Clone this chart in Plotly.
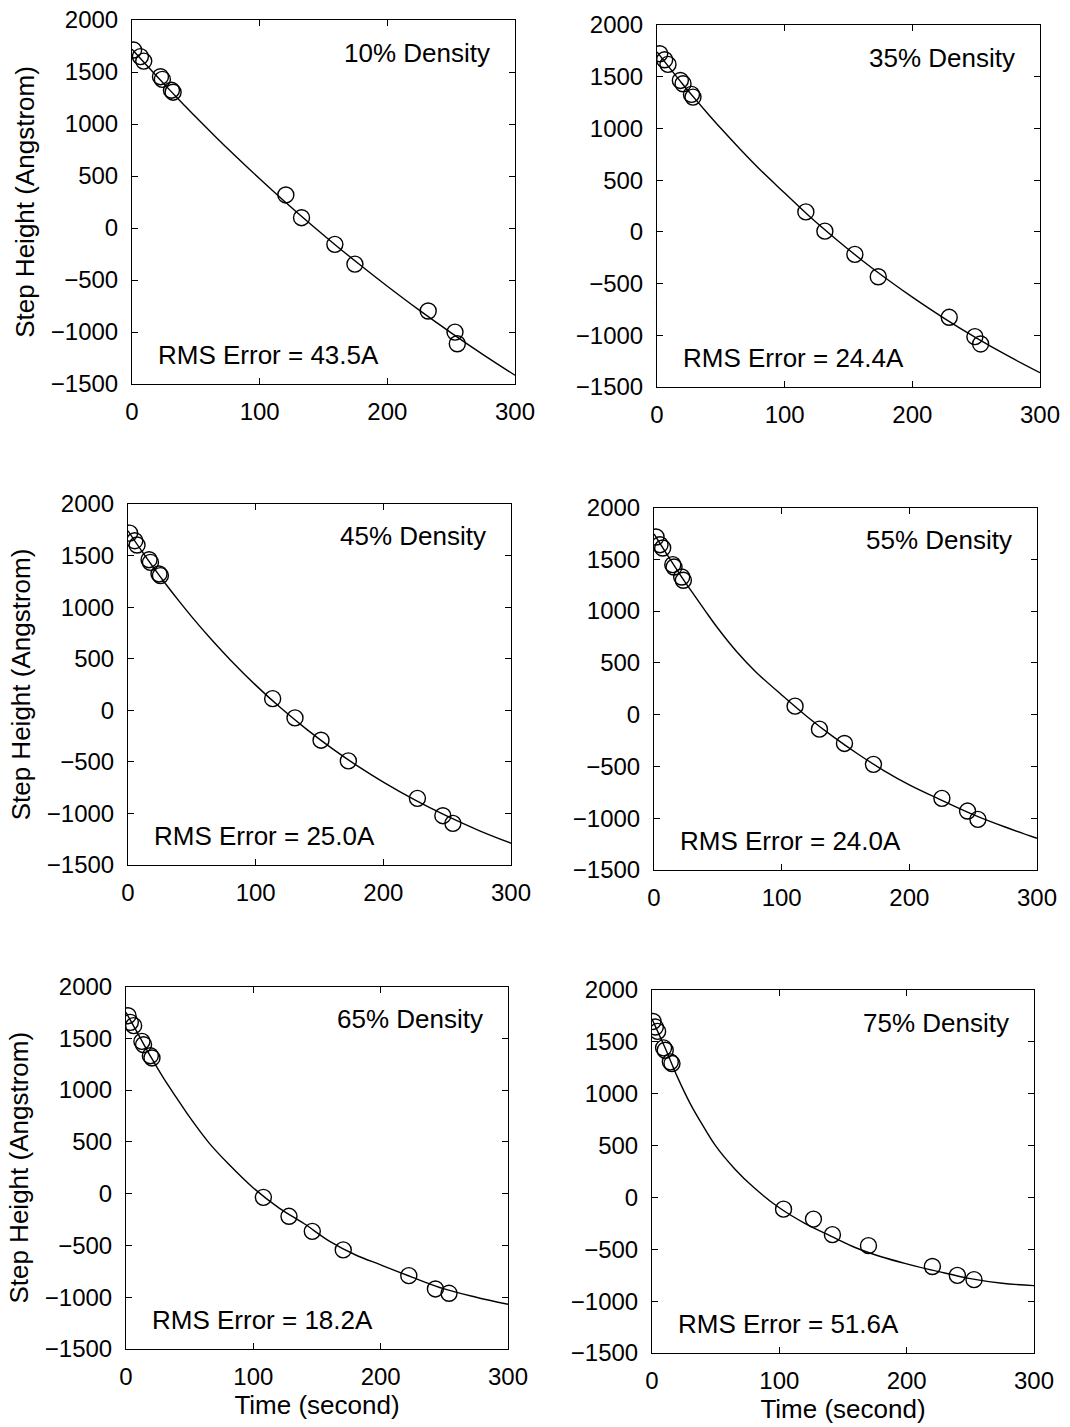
import plotly.graph_objects as go

# ---------------- data ----------------
panel_labels = ["10% Density", "35% Density", "45% Density",
                "55% Density", "65% Density", "75% Density"]
rms_labels = ["RMS Error = 43.5A", "RMS Error = 24.4A", "RMS Error = 25.0A",
              "RMS Error = 24.0A", "RMS Error = 18.2A", "RMS Error = 51.6A"]

t1 = [1.3, 6.6, 9.2, 22.3, 23.8, 30.9, 32.2, 120.5, 132.8, 158.9, 174.6, 232.0, 253.0, 254.8]
h1 = [1711, 1648, 1605, 1455, 1429, 1325, 1306, 318, 99, -157, -347, -798, -1001, -1113]

t2 = [2.1, 6.0, 8.6, 18.3, 20.4, 27.0, 28.2, 116.6, 131.5, 155.0, 173.3, 228.9, 249.0, 253.5]
h2 = [1722, 1664, 1619, 1464, 1432, 1329, 1303, 193, 7, -218, -434, -826, -1013, -1084]

t3 = [1.3, 5.3, 7.1, 16.5, 17.6, 24.3, 25.4, 113.3, 130.8, 151.2, 172.6, 226.7, 246.6, 254.5]
h3 = [1718, 1644, 1602, 1460, 1434, 1322, 1306, 113, -74, -290, -490, -854, -1022, -1096]

t4 = [1.6, 4.7, 6.8, 14.7, 15.7, 21.7, 23.0, 110.5, 129.6, 149.2, 171.9, 225.5, 245.6, 253.7]
h4 = [1715, 1641, 1609, 1448, 1425, 1329, 1297, 82, -140, -278, -480, -808, -931, -1011]

t5 = [1.6, 3.4, 6.0, 12.5, 13.8, 19.1, 20.4, 107.9, 128.0, 146.3, 170.6, 222.1, 243.0, 253.7]
h5 = [1718, 1654, 1622, 1470, 1438, 1332, 1310, -36, -219, -364, -543, -792, -920, -962]

t6 = [0.8, 2.6, 4.4, 9.1, 10.4, 14.4, 15.7, 103.3, 126.8, 141.7, 170.0, 220.2, 239.8, 252.9]
h6 = [1697, 1643, 1601, 1442, 1419, 1307, 1291, -113, -209, -359, -465, -666, -752, -793]

# fitted curves, read at these times
fit_t = [0, 10, 20, 30, 40, 50, 65, 80, 100, 120, 140, 160, 180, 200, 225, 250, 275, 300]
fit1 = [1720, 1585, 1452, 1321, 1193, 1067, 883, 704, 473, 250, 36, -170, -368, -560, -790, -1008, -1217, -1416]
fit2 = [1740, 1583, 1430, 1283, 1140, 1001, 801, 610, 375, 143, -69, -269, -456, -631, -836, -1025, -1200, -1362]
fit3 = [1740, 1557, 1383, 1217, 1058, 906, 691, 491, 244, 19, -185, -372, -542, -697, -872, -1027, -1166, -1289]
fit4 = [1745, 1550, 1360, 1180, 1005, 834, 605, 410, 190, -20, -210, -382, -540, -678, -825, -965, -1085, -1194]
fit5 = [1750, 1530, 1310, 1105, 920, 738, 493, 293, 55, -137, -291, -461, -590, -688, -808, -920, -1000, -1068]
fit6 = [1720, 1450, 1160, 905, 692, 497, 275, 95, -100, -250, -370, -485, -572, -640, -715, -783, -828, -850]

x_ticks = [0, 100, 200, 300]
y_ticks = [-1500, -1000, -500, 0, 500, 1000, 1500, 2000]

times = [t1, t2, t3, t4, t5, t6]
heights = [h1, h2, h3, h4, h5, h6]
fits = [fit1, fit2, fit3, fit4, fit5, fit6]

# ---------------- layout geometry (pixels of the 1070x1427 page) ----------------
W, H = 1070, 1427
boxes = [  # left, right, top, bottom
    (132, 515, 20, 384),
    (657, 1040, 25, 387),
    (128, 511, 504, 865),
    (654, 1037, 507.5, 870),
    (126, 508, 986.5, 1349),
    (652, 1034, 990, 1353),
]

FONT = "Liberation Sans, Arial, Helvetica, sans-serif"
fig = go.Figure()
annotations = []

for i in range(6):
    n = i + 1
    xa = "x" if n == 1 else f"x{n}"
    ya = "y" if n == 1 else f"y{n}"
    fig.add_trace(go.Scatter(
        x=fit_t, y=fits[i], mode="lines", line=dict(color="black", width=1.4, shape="spline"),
        xaxis=xa, yaxis=ya, showlegend=False, hoverinfo="skip"))
    fig.add_trace(go.Scatter(
        x=times[i], y=heights[i], mode="markers",
        marker=dict(symbol="circle-open", size=16, color="black", line=dict(width=1.4, color="black")),
        xaxis=xa, yaxis=ya, showlegend=False))

    l, r, t, b = boxes[i]
    common = dict(showline=True, linecolor="black", linewidth=1, mirror="ticks",
                  ticks="inside", ticklen=6, tickcolor="black", tickwidth=1,
                  showgrid=False, zeroline=False, automargin=False,
                  tickfont=dict(family=FONT, size=24, color="black"))
    xkey = "xaxis" if n == 1 else f"xaxis{n}"
    ykey = "yaxis" if n == 1 else f"yaxis{n}"
    xaxis = dict(domain=[l / W, r / W], range=[0, 300], tickvals=x_ticks,
                 anchor=ya, ticklabelstandoff=6, **common)
    yaxis = dict(domain=[1 - b / H, 1 - t / H], range=[-1500, 2000], tickvals=y_ticks,
                 anchor=xa, ticklabelstandoff=8, **common)
    if i % 2 == 0:
        yaxis["title"] = dict(text="Step Height (Angstrom)",
                              font=dict(family=FONT, size=26, color="black"), standoff=8)
    if i >= 4:
        xaxis["title"] = dict(text="Time (second)",
                              font=dict(family=FONT, size=26, color="black"), standoff=4)
    fig.update_layout({xkey: xaxis, ykey: yaxis})

    annotations.append(dict(text=panel_labels[i], xref=f"{xa} domain", yref=f"{ya} domain",
                            x=0.94, y=0.91, xanchor="right", yanchor="middle", showarrow=False,
                            font=dict(family=FONT, size=26, color="black")))
    annotations.append(dict(text=rms_labels[i], xref=f"{xa} domain", yref=f"{ya} domain",
                            x=0.063, y=0.08, xanchor="left", yanchor="middle", showarrow=False,
                            font=dict(family=FONT, size=26, color="black")))

fig.update_layout(width=W, height=H, margin=dict(l=0, r=0, t=0, b=0, autoexpand=False),
                  paper_bgcolor="white", plot_bgcolor="white",
                  annotations=annotations, showlegend=False)

fig.write_html("out.html", config={"displayModeBar": False},
               post_script="document.body.style.margin='0';")
